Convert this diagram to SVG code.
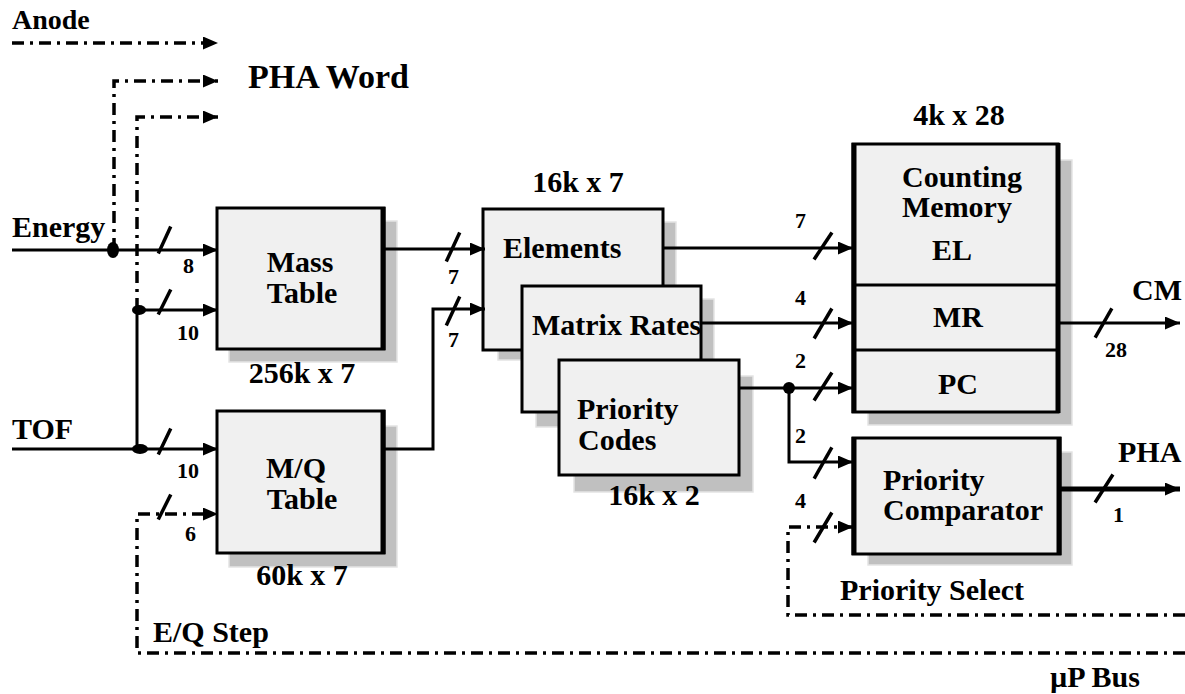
<svg xmlns="http://www.w3.org/2000/svg" width="1185" height="694" viewBox="0 0 1185 694">
<style>
.box{fill:#f0f0f0;stroke:#000;stroke-width:3}
.edge{stroke:#000;stroke-width:5;fill:none}
.shadow{fill:#c0c0c0;stroke:#e4e4e4;stroke-width:1.5}
.wire{fill:none;stroke:#000;stroke-width:3}
.dd{fill:none;stroke:#000;stroke-width:3.5;stroke-dasharray:12 6 3 6}
.sl{stroke:#000;stroke-width:3.5;stroke-linecap:square}
text{font-family:"Liberation Serif","Times New Roman",serif;font-weight:bold;font-size:30px;fill:#000}
.s{font-size:22px}
.m{text-anchor:middle}
</style>
<defs>
<marker id="ah" markerUnits="userSpaceOnUse" markerWidth="15" markerHeight="13" refX="15" refY="6.5" orient="auto">
<path d="M0,0 L15,6.5 L0,13 z" fill="#000"/>
</marker>
</defs>
<rect width="1185" height="694" fill="#fff"/>

<g id="labels">
<text x="12" y="29" style="font-size:28px">Anode</text>
<text x="248" y="88" style="font-size:34px">PHA Word</text>
<text x="12" y="237">Energy</text>
<text x="12" y="439">TOF</text>
<text x="153" y="642">E/Q Step</text>
<text x="840" y="600">Priority Select</text>
<text x="1050" y="687">µP Bus</text>
<text x="1132" y="300">CM</text>
<text x="1118" y="462">PHA</text>
</g>

<g id="mass-table">
<rect class="shadow" x="229" y="221" width="168" height="141"/>
<rect class="box" x="217" y="208" width="167" height="141"/>
<line class="edge" x1="383" y1="207" x2="383" y2="350"/>
<text class="m" x="300" y="272">Mass</text>
<text class="m" x="302" y="303">Table</text>
<text class="m" x="302" y="383">256k x 7</text>
</g>

<g id="mq-table">
<rect class="shadow" x="229" y="426" width="168" height="141"/>
<rect class="box" x="217" y="411" width="167" height="142"/>
<line class="edge" x1="383" y1="410" x2="383" y2="554"/>
<text class="m" x="296" y="478">M/Q</text>
<text class="m" x="302" y="509">Table</text>
<text class="m" x="302" y="585">60k x 7</text>
</g>

<g id="elements">
<rect class="shadow" x="498" y="222" width="178" height="138"/>
<rect class="box" x="483" y="209" width="180" height="141"/>
<text class="m" x="578" y="192">16k x 7</text>
<text x="503" y="258">Elements</text>
</g>

<g id="matrix-rates">
<rect class="shadow" x="536" y="299" width="178" height="128"/>
<rect class="box" x="522" y="286" width="179" height="126"/>
<text x="532" y="335">Matrix Rates</text>
</g>

<g id="priority-codes">
<rect class="shadow" x="574" y="376" width="179" height="116"/>
<rect class="box" x="559" y="360" width="180" height="115"/>
<text x="577" y="419">Priority</text>
<text x="578" y="450">Codes</text>
<text class="m" x="654" y="505">16k x 2</text>
</g>

<g id="counting-memory">
<rect class="shadow" x="868" y="160" width="204" height="265"/>
<rect class="box" x="853" y="144" width="205" height="268"/>
<line class="edge" x1="854" y1="143" x2="854" y2="413"/>
<line class="edge" x1="1058" y1="143" x2="1058" y2="413"/>
<line class="wire" x1="853" y1="285" x2="1060" y2="285"/>
<line class="wire" x1="853" y1="350" x2="1060" y2="350"/>
<text class="m" x="959" y="125">4k x 28</text>
<text x="902" y="187">Counting</text>
<text x="902" y="217">Memory</text>
<text class="m" x="952" y="260">EL</text>
<text class="m" x="958" y="327">MR</text>
<text class="m" x="958" y="394">PC</text>
</g>

<g id="priority-comparator">
<rect class="shadow" x="868" y="452" width="204" height="113"/>
<rect class="box" x="853" y="438" width="207" height="116"/>
<line class="edge" x1="854" y1="437" x2="854" y2="555"/>
<line class="edge" x1="1059" y1="437" x2="1059" y2="555"/>
<text x="883" y="490">Priority</text>
<text x="883" y="520">Comparator</text>
</g>

<g id="connectors">
<path class="dd" d="M12,43 H218" marker-end="url(#ah)"/>
<path class="dd" d="M114,250 V81 H218" marker-end="url(#ah)"/>
<path class="dd" d="M137,310 V117 H218" marker-end="url(#ah)"/>
<path class="wire" d="M12,250 H218" marker-end="url(#ah)"/>
<path class="wire" d="M137,310 H218" marker-end="url(#ah)"/>
<path class="wire" d="M137,310 V449"/>
<path class="wire" d="M12,449 H218" marker-end="url(#ah)"/>
<path class="dd" d="M1185,653 H137 V514 H218" marker-end="url(#ah)"/>
<path class="wire" d="M384,249 H485" marker-end="url(#ah)"/>
<path class="wire" d="M384,449 H433 V309 H485" marker-end="url(#ah)"/>
<path class="wire" d="M663,248 H853" marker-end="url(#ah)"/>
<path class="wire" d="M701,323 H853" marker-end="url(#ah)"/>
<path class="wire" d="M739,388 H853" marker-end="url(#ah)"/>
<path class="wire" d="M789,388 V462 H853" marker-end="url(#ah)"/>
<path class="dd" d="M1185,615 H788 V527 H853" marker-end="url(#ah)"/>
<path class="wire" d="M1060,323 H1180" marker-end="url(#ah)"/>
<path class="wire" style="stroke-width:5" d="M1060,489 H1180" marker-end="url(#ah)"/>
<ellipse cx="113" cy="250" rx="6" ry="8" fill="#000"/>
<ellipse cx="139" cy="310" rx="7" ry="5" fill="#000"/>
<ellipse cx="140" cy="449" rx="8" ry="5" fill="#000"/>
<circle cx="789" cy="388" r="6" fill="#000"/>
<line class="sl" x1="159" y1="252" x2="170" y2="228"/>
<line class="sl" x1="159" y1="313" x2="170" y2="291"/>
<line class="sl" x1="159" y1="453" x2="170" y2="430"/>
<line class="sl" x1="159" y1="518" x2="170" y2="496"/>
<line class="sl" x1="447" y1="260" x2="459" y2="234"/>
<line class="sl" x1="447" y1="324" x2="459" y2="298"/>
<line class="sl" x1="815" y1="258" x2="831" y2="234"/>
<line class="sl" x1="815" y1="337" x2="831" y2="310"/>
<line class="sl" x1="815" y1="399" x2="831" y2="374"/>
<line class="sl" x1="815" y1="477" x2="831" y2="449"/>
<line class="sl" x1="815" y1="541" x2="831" y2="514"/>
<line class="sl" x1="1096" y1="336" x2="1111" y2="310"/>
<line class="sl" x1="1096" y1="501" x2="1112" y2="476"/>
<text class="s" x="183" y="273">8</text>
<text class="s" x="177" y="340">10</text>
<text class="s" x="177" y="478">10</text>
<text class="s" x="185" y="541">6</text>
<text class="s" x="448" y="284">7</text>
<text class="s" x="448" y="347">7</text>
<text class="s" x="795" y="228">7</text>
<text class="s" x="795" y="305">4</text>
<text class="s" x="795" y="368">2</text>
<text class="s" x="795" y="443">2</text>
<text class="s" x="795" y="508">4</text>
<text class="s" x="1105" y="357">28</text>
<text class="s" x="1113" y="522">1</text>
</g>
</svg>
